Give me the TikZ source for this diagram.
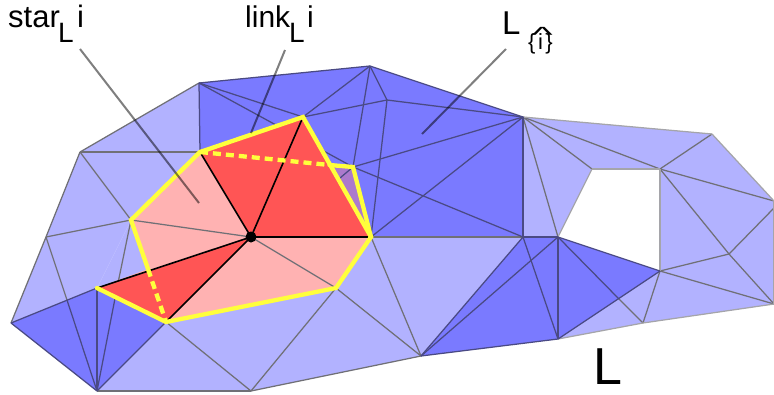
\documentclass[tikz,border=0pt]{standalone}
\usepackage{fontspec}
\setmainfont{Liberation Sans}
\definecolor{lightb}{RGB}{178,178,255}
\definecolor{darkb}{RGB}{122,122,255}
\definecolor{pinkc}{RGB}{255,178,178}
\definecolor{redc}{RGB}{255,85,85}
\definecolor{purp}{RGB}{172,122,204}
\definecolor{yel}{RGB}{255,255,60}
\definecolor{gridg}{RGB}{112,112,118}
\definecolor{gridd}{RGB}{74,74,132}
\definecolor{rimg}{RGB}{165,165,170}
\tikzset{
  edge/.style={draw=gridg,line width=1.25pt},
  edged/.style={draw=gridd,line width=1.25pt},
  rim/.style={draw=rimg,line width=1.25pt},
  blk/.style={draw=black,line width=1.6pt},
  yl/.style={draw=yel,line width=4.3pt,line join=miter,line cap=round},
  yd/.style={draw=yel,line width=4.3pt,dash pattern=on 8pt off 5pt},
  leader/.style={draw=black,draw opacity=.5,line width=2pt},
  lab/.style={inner sep=0pt,anchor=base west,text=black}
}
\begin{document}
\begin{tikzpicture}[x=1pt,y=-1pt]
\useasboundingbox (0,0) rectangle (774,394);
\foreach \n/\x/\y in {A/80/152,B/199/83,C/370/66,D/523/117,E/712/134,F/774/201,F2/774/208,N/774/304,
  H/97/391,I/251/391,J/421/356,K/558/339,M/643/323,O/11/323,P/46/237,Q/131/220,R/200/152,S/303/117,
  T/251/237,U/371/237,V/336/288,W/166/322,X/97/288,Y/353/167,Z/387/100,G/523/237,
  a/558/237,b/592/169,c/660/169,d/660/271,e/729/254,Yc/329.5/165,Qc/148/269,
  Pk/67/300,Qk/118/283,Mk/619/299}
  {\coordinate (\n) at (\x,\y);}
% fills
\fill[lightb] (O)--(P)--(A)--(B)--(R)--(Q)--(X)--cycle;
\fill[lightb] (Q)--(T)--(W)--(H)--(X)--cycle;
\fill[lightb] (W)--(V)--(U)--(G)--(J)--(I)--(H)--cycle;
\fill[lightb] (D)--(E)--(F)--(N)--(M)--(K)--(d)--(c)--(b)--(a)--(G)--cycle;
\fill[darkb] (O)--(X)--(W)--(H)--cycle;
\fill[darkb] (B)--(C)--(D)--(G)--(U)--(S)--(R)--cycle;
\fill[darkb] (G)--(a)--(d)--(K)--(J)--cycle;
% grid edges on the pale parts
\foreach \p/\q in {P/Pk,Q/Qk,O/P,P/A,A/B,A/R,A/Q,P/Q,
  H/I,W/I,V/I,V/J,U/J,I/J,U/G,Mk/M,d/M,c/E,c/D,c/F,c/e,e/d,e/N,e/F2,d/N,D/b,D/a}
  {\path[edge] (\p)--(\q);}
\foreach \p/\q in {D/E,E/F,F/F2,F2/N,K/M,M/N,a/b,b/c,c/d}
  {\path[rim] (\p)--(\q);}
% grid edges on the dark parts
\foreach \p/\q in {O/X,X/W,O/H,H/W,X/H,Pk/H,Qk/H,B/R,B/C,
  B/S,B/Y,C/S,C/Y,C/Z,Z/U,Z/S,Z/D,C/D,Y/D,Y/G,U/D,G/D,G/a,G/K,a/J,G/J,a/K,J/K,a/Mk,a/d,d/K}
  {\path[edged] (\p)--(\q);}
% star
\fill[pinkc] (Q)--(R)--(T)--cycle;
\fill[pinkc] (Q)--(T)--(X)--(Qc)--cycle;
\fill[pinkc] (T)--(U)--(V)--(W)--cycle;
\fill[purp] (Yc)--(Y)--(U)--cycle;
\path[edged] (Y)--(340,178);
\fill[redc] (R)--(S)--(U)--(T)--cycle;
\fill[redc] (T)--(X)--(W)--cycle;
\path[edge] (Q)--(T);
\path[edge] (T)--(V);
\path[blk] (T)--(R);
\path[blk] (T)--(S);
\path[blk] (T)--(U);
\path[blk] (T)--(X);
\path[blk] (T)--(W);
% link
\path[yd] (R)--(Yc);
\path[yd] (Qc)--(W);
\path[yl] (Yc)--(Y)--(U);
\path[yl] (Qc)--(Q)--(R)--(S)--(U)--(V)--(W)--(X);
\fill[black] (T) circle (5.5);
% leaders
\coordinate (l1a) at (80,49); \coordinate (l1b) at (199,203);
\coordinate (l2a) at (285,50); \coordinate (l2b) at (251,133);
\coordinate (l3a) at (506,49); \coordinate (l3b) at (422,134);
\path[leader] (l1a)--(l1b);
\path[leader] (l2a)--(l2b);
\path[leader] (l3a)--(l3b);
% text
\node[lab,font=\fontsize{31}{31}\selectfont] (t1) at (8,27) {star};
\node[lab,font=\fontsize{28}{28}\selectfont] (t1s) at (58,42) {L};
\node[lab,font=\fontsize{31}{31}\selectfont] (t1i) at (77,27) {i};
\node[lab,font=\fontsize{30}{30}\selectfont] (t2) at (245,27) {link};
\node[lab,font=\fontsize{28}{28}\selectfont] (t2s) at (289,42) {L};
\node[lab,font=\fontsize{30}{30}\selectfont] (t2i) at (307,27) {i};
\node[lab,font=\fontsize{33}{33}\selectfont] (t3) at (502,34) {L};
\node[lab,font=\fontsize{22}{22}\selectfont] (t3s) at (528,49) {\{\hspace{2.5pt}i\hspace{2.5pt}\}};
\node[inner sep=0pt,anchor=base,font=\fontsize{22}{22}\selectfont] (t3h) at (542.5,42) {\scalebox{2}[1]{\^{}}};
\node[lab,font=\fontsize{52}{52}\selectfont] (t4) at (593,384) {L};
\end{tikzpicture}
\end{document}
